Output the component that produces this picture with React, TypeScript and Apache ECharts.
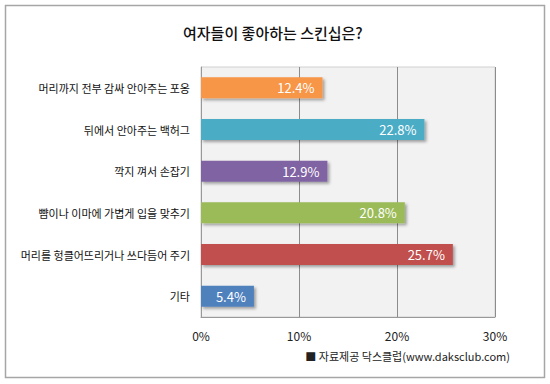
import React, { useEffect, useRef } from "react";
import * as echarts from "echarts";

const categories = [
  "머리까지 전부 감싸 안아주는 포옹",
  "뒤에서 안아주는 백허그",
  "깍지 껴서 손잡기",
  "뺨이나 이마에 가볍게 입을 맞추기",
  "머리를 헝클어뜨리거나 쓰다듬어 주기",
  "기타",
];
const values = [12.4, 22.8, 12.9, 20.8, 25.7, 5.4];
const colors = ["#f79646", "#4bacc6", "#8064a2", "#9bbb59", "#c0504d", "#4f81bd"];
const tickLabels = ["0%", "10%", "20%", "30%"];
const title = "여자들이 좋아하는 스킨십은?";
const source = "■ 자료제공 닥스클럽(www.daksclub.com)";

const FONT = "'Noto Sans CJK KR', 'Noto Sans', sans-serif";

export default function App() {
  const ref = useRef<HTMLDivElement>(null);
  useEffect(() => {
    document.body.style.margin = "0";
    const chart = echarts.init(ref.current!, null, { renderer: "svg" });
    chart.setOption({
      animation: false,
      backgroundColor: "#ffffff",
      textStyle: { fontFamily: FONT },
      title: {
        text: title,
        left: 178,
        top: 20,
        textStyle: { fontSize: 15, fontWeight: 500, color: "#111", fontFamily: FONT },
      },
      graphic: [
        {
          type: "rect",
          shape: { x: 5.5, y: 5.5, width: 539, height: 372 },
          style: { fill: "none", stroke: "#a6a6a6", lineWidth: 1.5 },
          z: -1,
        },
        {
          type: "text",
          right: 40,
          top: 350,
          style: { text: source, fontSize: 11, fill: "#222", fontFamily: FONT },
        },
      ],
      grid: {
        left: 201,
        right: 55,
        top: 67,
        bottom: 67,
        show: true,
        backgroundColor: "#f2f2f2",
        borderColor: "#d0d0d0",
        borderWidth: 1,
      },
      xAxis: {
        type: "value",
        min: 0,
        max: 30,
        interval: 10,
        axisLine: { show: true, lineStyle: { color: "#999" } },
        axisTick: { show: false },
        splitLine: { show: true, lineStyle: { color: "#8c8c8c", width: 1 } },
        axisLabel: {
          formatter: (v: number) => tickLabels[Math.round(v / 10)],
          fontSize: 12,
          color: "#222",
          margin: 12,
          fontFamily: FONT,
        },
      },
      yAxis: {
        type: "category",
        data: categories,
        inverse: true,
        axisLine: { show: true, lineStyle: { color: "#999" } },
        axisTick: { show: false },
        axisLabel: { fontSize: 11, color: "#111", margin: 11, fontFamily: FONT },
      },
      series: [
        {
          type: "bar",
          barWidth: 21,
          data: values.map((v, i) => ({
            value: v,
            itemStyle: {
              color: colors[i],
              shadowColor: "rgba(0,0,0,0.35)",
              shadowBlur: 3,
              shadowOffsetX: 2,
              shadowOffsetY: 2,
            },
          })),
          label: {
            show: true,
            position: "insideRight",
            distance: 8,
            formatter: (p: any) => p.value.toFixed(1) + "%",
            color: "#ffffff",
            fontSize: 13,
            fontFamily: FONT,
          },
        },
      ],
    });
    return () => chart.dispose();
  }, []);
  return <div ref={ref} style={{ width: 550, height: 384 }} />;
}
